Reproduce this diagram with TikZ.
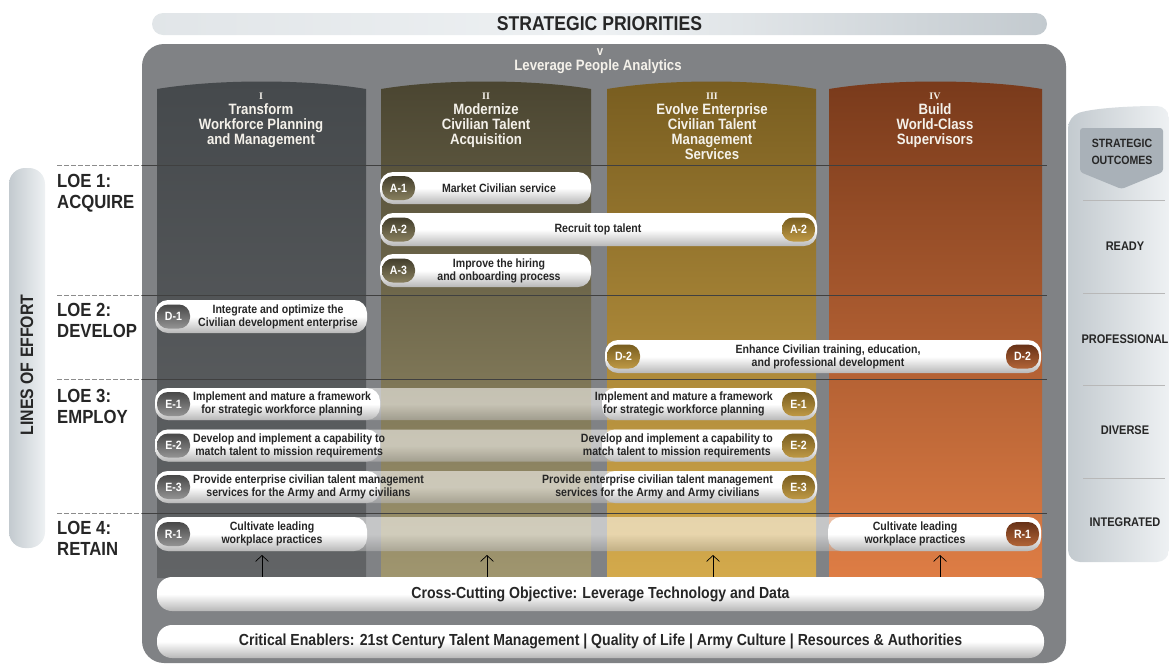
\documentclass[tikz,border=0pt]{standalone}
\usepackage{fontspec}
\setmainfont{Liberation Sans}
\newfontfamily\condfont{Liberation Sans}[FakeStretch=0.8]
\newfontfamily\semifont{Liberation Sans}[FakeStretch=0.88]
\newfontfamily\numfont{Liberation Serif}
\usetikzlibrary{arrows.meta,positioning}

\definecolor{framegray}{HTML}{808285}
\definecolor{textdark}{HTML}{262626}
\definecolor{headwhite}{HTML}{F4F1EA}
\definecolor{colItop}{HTML}{45494C}
\definecolor{colIbot}{HTML}{626466}
\definecolor{colIItop}{HTML}{4A4531}
\definecolor{colIIbot}{HTML}{A0966F}
\definecolor{colIIItop}{HTML}{785D20}
\definecolor{colIIIbot}{HTML}{D4AA4C}
\definecolor{colIVtop}{HTML}{793A1B}
\definecolor{colIVbot}{HTML}{DE7D45}
\definecolor{paleA}{HTML}{C3CACF}
\definecolor{paleB}{HTML}{EEF1F3}
\definecolor{shieldgray}{HTML}{A9B1B8}

\begin{document}
\begin{tikzpicture}[x=1pt,y=-1pt]
\tikzstyle{every node} = [inner sep=0pt, font=\semifont\bfseries];
\tikzstyle{bar} = [rectangle, rounded corners=13pt, top color=white, bottom color=black!28, middle color=white];
\tikzstyle{badge} = [rectangle, rounded corners=11pt, minimum width=33pt, minimum height=24pt, text=white, font=\semifont\bfseries\fontsize{12}{12}\selectfont];
\tikzstyle{bartext} = [align=center, text=textdark, font=\semifont\bfseries\fontsize{12}{13}\selectfont];
\tikzstyle{colhead} = [align=center, anchor=north, text=headwhite, font=\semifont\bfseries\fontsize{15}{15}\selectfont];
\tikzstyle{loe} = [align=left, anchor=west, text=textdark, font=\semifont\bfseries\fontsize{19}{21}\selectfont];
\tikzstyle{outcome} = [text=textdark, font=\semifont\bfseries\fontsize{12.5}{13}\selectfont];
\tikzstyle{uparrow} = [black, line width=0.7pt, -{Straight Barb[length=6pt,width=13pt]}];
\tikzstyle{grayb} = [top color=black!72, bottom color=black!42];
\tikzstyle{oliveb} = [top color=colIItop!90!black, bottom color=colIIbot!85!black];
\tikzstyle{goldb} = [top color=colIIItop, bottom color=colIIIbot!90!black];
\tikzstyle{brownb} = [top color=colIVtop!85!black, bottom color=colIVbot!80!black];

\useasboundingbox (0,0) rectangle (1169,665);

% banner on top
\node[rectangle, rounded corners=11pt, minimum width=895pt, minimum height=22pt,
  left color=paleB!70!paleA, right color=paleA, middle color=paleB,
  text=textdark, font=\semifont\bfseries\fontsize{20}{20}\selectfont] (prio) at (599.5,24) {STRATEGIC PRIORITIES};

% frame and columns
\fill[framegray, rounded corners=22pt] (142,44) rectangle (1066,663);
\foreach \xa/\xb/\ct/\cb in {157/366/colItop/colIbot, 381/591/colIItop/colIIbot,
    607/816/colIIItop/colIIIbot, 829/1042/colIVtop/colIVbot}
  \shade[top color=\ct, bottom color=\cb] (\xa,578) -- (\xa,89)
    .. controls (\xa+60,79) and (\xb-60,79) .. (\xb,89) -- (\xb,578) -- cycle;

\node[text=headwhite, font=\semifont\bfseries\fontsize{13}{13}\selectfont] (vee) at (600,52) {v};
\node[text=headwhite, font=\semifont\bfseries\fontsize{15}{15}\selectfont] (analytics) at (598,67) {Leverage People Analytics};

\node[colhead] (hd1) at (261,93) {{\numfont\bfseries\fontsize{10}{10}\selectfont I}\\Transform\\Workforce Planning\\and Management};
\node[colhead] (hd2) at (486,93) {{\numfont\bfseries\fontsize{10}{10}\selectfont II}\\Modernize\\Civilian Talent\\Acquisition};
\node[colhead] (hd3) at (712,93) {{\numfont\bfseries\fontsize{10}{10}\selectfont III}\\Evolve Enterprise\\Civilian Talent\\Management\\Services};
\node[colhead] (hd4) at (935,93) {{\numfont\bfseries\fontsize{10}{10}\selectfont IV}\\Build\\World-Class\\Supervisors};

% row lines
\foreach \ly in {165,295,379,513} {
  \draw[black!45, line width=0.6pt, dash pattern=on 5pt off 2pt] (57,\ly) -- (142,\ly);
  \draw[black!75, line width=0.6pt] (142,\ly) -- (1047,\ly);
}

% lines of effort
\node[rectangle, rounded corners=16pt, minimum width=36pt, minimum height=380pt,
  left color=paleA, right color=paleB] (effort) at (27,358) {};
\node[rotate=90, text=textdark, font=\semifont\bfseries\fontsize{18}{18}\selectfont] (efforttxt) at (27,365) {LINES OF EFFORT};
\node[loe] (loe1) at (57,193) {LOE 1:\\ACQUIRE};
\node[loe] (loe2) at (57,320) {LOE 2:\\DEVELOP};
\node[loe] (loe3) at (57,406) {LOE 3:\\EMPLOY};
\node[loe] (loe4) at (57,538) {LOE 4:\\RETAIN};

% acquire
\node[bar, minimum width=211pt, minimum height=32pt] (a1) at (485.5,188) {};
\node[badge, oliveb, anchor=west] (a1l) at ([xshift=2pt]a1.west) {A-1};
\node[bartext] (a1t) at (499,188) {Market Civilian service};
\node[bar, minimum width=437pt, minimum height=33pt] (a2) at (598.5,229.5) {};
\node[badge, oliveb, anchor=west] (a2l) at ([xshift=2pt]a2.west) {A-2};
\node[badge, goldb, anchor=east] (a2r) at ([xshift=-2pt]a2.east) {A-2};
\node[bartext] (a2t) at (598,229.5) {Recruit top talent};
\node[bar, minimum width=211pt, minimum height=33pt] (a3) at (485.5,270.5) {};
\node[badge, oliveb, anchor=west] (a3l) at ([xshift=2pt]a3.west) {A-3};
\node[bartext] (a3t) at (499,270.5) {Improve the hiring\\and onboarding process};

% develop
\node[bar, minimum width=212pt, minimum height=33pt] (d1) at (261,316.5) {};
\node[badge, grayb, anchor=west] (d1l) at ([xshift=2pt]d1.west) {D-1};
\node[bartext] (d1t) at (278,316.5) {Integrate and optimize the\\Civilian development enterprise};
\node[bar, minimum width=436pt, minimum height=33pt] (d2) at (823,356.5) {};
\node[badge, goldb, anchor=west] (d2l) at ([xshift=2pt]d2.west) {D-2};
\node[badge, brownb, anchor=east] (d2r) at ([xshift=-2pt]d2.east) {D-2};
\node[bartext] (d2t) at (828,356.5) {Enhance Civilian training, education,\\and professional development};

% employ
\foreach \n/\cy/\tl/\tr in {1/404/{Implement and mature a framework\\for strategic workforce planning}/{Implement and mature a framework\\for strategic workforce planning},
    2/445.5/{Develop and implement a capability to\\match talent to mission requirements}/{Develop and implement a capability to\\match talent to mission requirements},
    3/487/{Provide enterprise civilian talent management\\services for the Army and Army civilians}/{Provide enterprise civilian talent management\\services for the Army and Army civilians}} {
  \node[bar, fill opacity=0.55, minimum width=662pt, minimum height=32pt] (e\n) at (486,\cy) {};
  \node[bar, minimum width=225pt, minimum height=32pt, anchor=west] (e\n a) at (e\n.west) {};
  \node[bar, minimum width=215pt, minimum height=32pt, anchor=east] (e\n b) at (e\n.east) {};
  \node[badge, grayb, anchor=west] (e\n l) at ([xshift=2pt]e\n.west) {E-\n};
  \node[badge, goldb, anchor=east] (e\n r) at ([xshift=-2pt]e\n.east) {E-\n};
  \node[bartext, anchor=west] (e\n tl) at (193,\cy) {\tl};
  \node[bartext, anchor=east] (e\n tr) at (773,\cy) {\tr};
}

% retain
\node[bar, fill opacity=0.55, minimum width=886pt, minimum height=34pt] (r1) at (598,534) {};
\node[bar, minimum width=212pt, minimum height=34pt, anchor=west] (r1a) at (r1.west) {};
\node[bar, minimum width=213pt, minimum height=34pt, anchor=east] (r1b) at (r1.east) {};
\node[badge, grayb, anchor=west] (r1l) at ([xshift=2pt]r1.west) {R-1};
\node[badge, brownb, anchor=east] (r1r) at ([xshift=-2pt]r1.east) {R-1};
\node[bartext] (r1tl) at (272,534) {Cultivate leading\\workplace practices};
\node[bartext] (r1tr) at (915,534) {Cultivate leading\\workplace practices};

% bottom bars
\node[bar, rounded corners=15pt, minimum width=887pt, minimum height=34pt, text=textdark,
  font=\semifont\bfseries\fontsize{16}{16}\selectfont] (cross) at (600.5,594) {Cross-Cutting Objective: Leverage Technology and Data};
\node[bar, rounded corners=15pt, minimum width=887pt, minimum height=33pt, text=textdark,
  font=\semifont\bfseries\fontsize{16}{16}\selectfont] (crit) at (600.5,641.5) {Critical Enablers: 21st Century Talent Management | Quality of Life | Army Culture | Resources \& Authorities};
\foreach \ax [count=\i] in {262,487,713,940} {
  \coordinate (tip\i) at (\ax,555);
  \draw[uparrow] (cross.north -| tip\i) -- (tip\i);
}

% strategic outcomes
\shade[left color=paleA, right color=paleB, rounded corners=12pt] (1068,562) -- (1068,116)
  .. controls (1095,108) and (1130,106) .. (1169,106) -- (1169,562) -- cycle;
\fill[shieldgray, rounded corners=3pt] (1080,128) -- (1163,128) -- (1163,172) -- (1121.5,189) -- (1080,172) -- cycle;
\node[outcome, align=center, font=\semifont\bfseries\fontsize{12}{17}\selectfont] (outhead) at (1122,152) {STRATEGIC\\OUTCOMES};
\foreach \sy in {200,293,385,478}
  \draw[black!28, line width=0.8pt] (1083,\sy) -- (1165,\sy);
\node[outcome] (out1) at (1125,246) {READY};
\node[outcome] (out2) at (1125,339) {PROFESSIONAL};
\node[outcome] (out3) at (1125,430) {DIVERSE};
\node[outcome] (out4) at (1125,522) {INTEGRATED};
\end{tikzpicture}
\end{document}
